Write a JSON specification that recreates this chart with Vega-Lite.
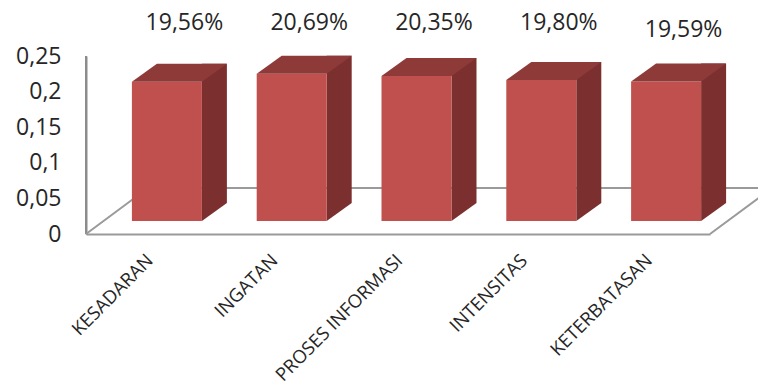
{
  "$schema": "https://vega.github.io/schema/vega-lite/v6.json",
  "width": 624,
  "height": 178,
  "autosize": {"type": "none"},
  "padding": {"left": 86, "top": 56, "right": 48, "bottom": 151},
  "background": "white",
  "config": {
    "view": {"stroke": null},
    "font": "Open Sans",
    "locale": {"number": {"decimal": ",", "thousands": ".", "grouping": [3], "currency": ["", " €"]}},
    "axisY": {
      "title": null,
      "values": [0, 0.05, 0.1, 0.15, 0.2, 0.25],
      "format": "~g",
      "ticks": false,
      "grid": false,
      "domain": true,
      "labelPadding": 25,
      "labelFont": "Open Sans",
      "labelFontSize": 23,
      "labelColor": "#262626",
      "labelFlush": false,
      "labelOverlap": false,
      "domainColor": "#8c8c8c",
      "domainWidth": 2
    }
  },
  "data": {
    "values": [
      {"aspek": "KESADARAN", "nilai": 0.1956},
      {"aspek": "INGATAN", "nilai": 0.2069},
      {"aspek": "PROSES INFORMASI", "nilai": 0.2035},
      {"aspek": "INTENSITAS", "nilai": 0.1980},
      {"aspek": "KETERBATASAN", "nilai": 0.1959}
    ]
  },
  "encoding": {
    "x": {
      "field": "aspek",
      "type": "nominal",
      "sort": null,
      "scale": {"type": "point", "padding": 0.5},
      "axis": {
        "title": null,
        "labelAngle": -45,
        "labelAlign": "right",
        "labelBaseline": "middle",
        "labelPadding": 23,
        "labelOffset": 1,
        "ticks": false,
        "grid": false,
        "domainColor": "#9a9a9a",
        "domainWidth": 2,
        "labelFont": "Open Sans",
        "labelFontSize": 18.5,
        "labelColor": "#262626",
        "labelLimit": 400,
        "labelOverlap": false
      }
    }
  },
  "layer": [
    {
      "data": {"values": [{}]},
      "mark": {"type": "rule", "color": "#8c8c8c", "strokeWidth": 2},
      "encoding": {
        "x": {"value": 0},
        "y": {"datum": 0, "scale": {"domain": [0, 0.25], "nice": false}, "axis": {"values": [0, 0.05, 0.1, 0.15, 0.2, 0.25], "format": "~g", "title": null, "domain": true, "domainColor": "#8c8c8c", "domainWidth": 2}},
        "y2": {"datum": 0.25}
      }
    },
    {
      "data": {"values": [{}]},
      "mark": {"type": "rule", "color": "#9a9a9a", "strokeWidth": 2, "x2Offset": 62, "y2Offset": -46},
      "encoding": {
        "x": {"value": 0},
        "x2": {"value": 0},
        "y": {"datum": 0, "scale": {"domain": [0, 0.25], "nice": false}, "axis": {"values": [0, 0.05, 0.1, 0.15, 0.2, 0.25], "format": "~g", "title": null, "domain": true, "domainColor": "#8c8c8c", "domainWidth": 2}},
        "y2": {"datum": 0}
      }
    },
    {
      "data": {"values": [{}]},
      "mark": {"type": "rule", "color": "#9a9a9a", "strokeWidth": 2, "xOffset": 62, "x2Offset": 62, "yOffset": -46},
      "encoding": {
        "x": {"value": 0},
        "x2": {"value": "width"},
        "y": {"datum": 0, "scale": {"domain": [0, 0.25], "nice": false}, "axis": {"values": [0, 0.05, 0.1, 0.15, 0.2, 0.25], "format": "~g", "title": null, "domain": true, "domainColor": "#8c8c8c", "domainWidth": 2}}
      }
    },
    {
      "data": {"values": [{}]},
      "mark": {"type": "rule", "color": "#9a9a9a", "strokeWidth": 2, "x2Offset": 62, "y2Offset": -46},
      "encoding": {
        "x": {"value": "width"},
        "x2": {"value": "width"},
        "y": {"datum": 0, "scale": {"domain": [0, 0.25], "nice": false}, "axis": {"values": [0, 0.05, 0.1, 0.15, 0.2, 0.25], "format": "~g", "title": null, "domain": true, "domainColor": "#8c8c8c", "domainWidth": 2}},
        "y2": {"datum": 0}
      }
    },
    {
      "mark": {"type": "bar", "orient": "vertical", "width": 25, "color": "#7B302F", "xOffset": 66, "yOffset": -31, "y2Offset": -31},
      "encoding": {
        "y": {"field": "nilai", "type": "quantitative", "scale": {"domain": [0, 0.25], "nice": false}, "axis": {"values": [0, 0.05, 0.1, 0.15, 0.2, 0.25], "format": "~g", "title": null, "domain": true, "domainColor": "#8c8c8c", "domainWidth": 2}},
        "y2": {"datum": 0}
      }
    },
    {
      "mark": {"type": "point", "shape": "M-1,0.72L1,-0.72L-1,-0.72Z", "size": 625, "filled": true, "color": "#7B302F", "opacity": 1, "strokeWidth": 0, "xOffset": 66, "yOffset": -22},
      "encoding": {
        "y": {"datum": 0, "scale": {"domain": [0, 0.25], "nice": false}, "axis": {"values": [0, 0.05, 0.1, 0.15, 0.2, 0.25], "format": "~g", "title": null, "domain": true, "domainColor": "#8c8c8c", "domainWidth": 2}}
      }
    },
    {
      "mark": {"type": "bar", "orient": "vertical", "width": 70, "color": "#C0504D", "xOffset": 18.5, "yOffset": -13, "y2Offset": -13},
      "encoding": {
        "y": {"field": "nilai", "type": "quantitative", "scale": {"domain": [0, 0.25], "nice": false}, "axis": {"values": [0, 0.05, 0.1, 0.15, 0.2, 0.25], "format": "~g", "title": null, "domain": true, "domainColor": "#8c8c8c", "domainWidth": 2}},
        "y2": {"datum": 0}
      }
    },
    {
      "mark": {"type": "point", "shape": "M-1,0.1895L0.4737,0.1895L1,-0.1895L-0.4737,-0.1895Z", "size": 9025, "filled": true, "color": "#8E3A38", "opacity": 1, "strokeWidth": 0, "xOffset": 31, "yOffset": -22},
      "encoding": {
        "y": {"field": "nilai", "type": "quantitative", "scale": {"domain": [0, 0.25], "nice": false}, "axis": {"values": [0, 0.05, 0.1, 0.15, 0.2, 0.25], "format": "~g", "title": null, "domain": true, "domainColor": "#8c8c8c", "domainWidth": 2}}
      }
    },
    {
      "transform": [{"filter": "datum.aspek != 'KETERBATASAN'"}],
      "mark": {"type": "text", "font": "Open Sans", "fontSize": 23, "color": "#262626", "baseline": "middle", "align": "center", "xOffset": 36},
      "encoding": {
        "y": {"datum": 0.297, "scale": {"domain": [0, 0.25], "nice": false}, "axis": {"values": [0, 0.05, 0.1, 0.15, 0.2, 0.25], "format": "~g", "title": null, "domain": true, "domainColor": "#8c8c8c", "domainWidth": 2}},
        "text": {"field": "nilai", "type": "quantitative", "format": ".2%"}
      }
    },
    {
      "transform": [{"filter": "datum.aspek == 'KETERBATASAN'"}],
      "mark": {"type": "text", "font": "Open Sans", "fontSize": 23, "color": "#262626", "baseline": "middle", "align": "center", "xOffset": 36},
      "encoding": {
        "y": {"datum": 0.287, "scale": {"domain": [0, 0.25], "nice": false}, "axis": {"values": [0, 0.05, 0.1, 0.15, 0.2, 0.25], "format": "~g", "title": null, "domain": true, "domainColor": "#8c8c8c", "domainWidth": 2}},
        "text": {"field": "nilai", "type": "quantitative", "format": ".2%"}
      }
    }
  ]
}
